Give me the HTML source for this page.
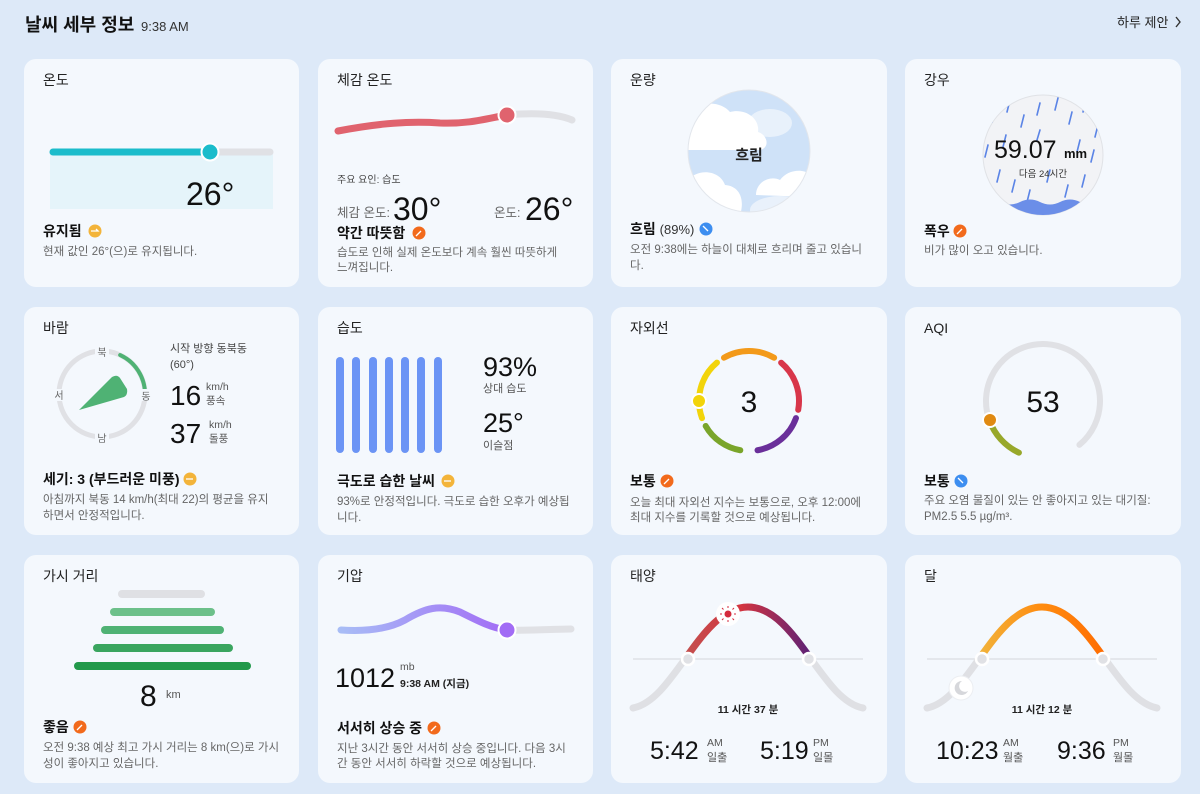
<!DOCTYPE html>
<html><head><meta charset="utf-8"><style>
html,body{margin:0;padding:0;background:#dde9f8;width:1200px;height:794px;overflow:hidden}
svg{display:block}
text{font-family:"Liberation Sans","Noto Sans CJK KR",sans-serif}
.t{font-size:14px;fill:#222}
.b{font-size:14px;font-weight:bold;fill:#111}
.d{font-size:11.5px;fill:#666}
.s{font-size:11px;fill:#555}
</style></head><body>
<svg width="1200" height="794" viewBox="0 0 1200 794" xmlns="http://www.w3.org/2000/svg">
<defs>
<linearGradient id="sunG" x1="680" x2="815" y1="0" y2="0" gradientUnits="userSpaceOnUse"><stop offset="0" stop-color="#c25250"/><stop offset="0.45" stop-color="#d4343f"/><stop offset="1" stop-color="#55207a"/></linearGradient>
<linearGradient id="moonG" x1="974" x2="1109" y1="0" y2="0" gradientUnits="userSpaceOnUse"><stop offset="0" stop-color="#f0b63e"/><stop offset="0.5" stop-color="#ff8c10"/><stop offset="1" stop-color="#ff6a00"/></linearGradient>
<linearGradient id="presG" x1="340" x2="507" y1="0" y2="0" gradientUnits="userSpaceOnUse"><stop offset="0" stop-color="#a8bdf6"/><stop offset="1" stop-color="#a26cf5"/></linearGradient>
<clipPath id="skyS"><rect x="600" y="560" width="300" height="99"/></clipPath>
<clipPath id="skyM"><rect x="900" y="560" width="300" height="99"/></clipPath>
<clipPath id="cloudC"><circle cx="749" cy="151" r="61"/></clipPath>
<clipPath id="rainC"><circle cx="1043" cy="155" r="60"/></clipPath>
</defs>
<rect width="1200" height="794" fill="#dde9f8"/>
<text x="25" y="31" font-size="18" font-weight="bold" fill="#111">날씨 세부 정보</text>
<text x="141" y="31" font-size="13" fill="#333">9:38 AM</text>
<text x="1117" y="27" font-size="13" fill="#222">하루 제안</text>
<path d="M1176,17 l4,5 l-4,5" stroke="#333" stroke-width="1.4" fill="none"/>

<g fill="#f4f8fd">
<rect x="24" y="59" width="275" height="228" rx="12"/><rect x="318" y="59" width="275" height="228" rx="12"/><rect x="611" y="59" width="276" height="228" rx="12"/><rect x="905" y="59" width="276" height="228" rx="12"/>
<rect x="24" y="307" width="275" height="228" rx="12"/><rect x="318" y="307" width="275" height="228" rx="12"/><rect x="611" y="307" width="276" height="228" rx="12"/><rect x="905" y="307" width="276" height="228" rx="12"/>
<rect x="24" y="555" width="275" height="228" rx="12"/><rect x="318" y="555" width="275" height="228" rx="12"/><rect x="611" y="555" width="276" height="228" rx="12"/><rect x="905" y="555" width="276" height="228" rx="12"/>
</g>

<!-- 1 온도 -->
<text x="43" y="85" class="t">온도</text>
<rect x="50" y="152" width="223" height="57" fill="#e5f4fa"/>
<line x1="53" y1="152" x2="270" y2="152" stroke="#e0e1e5" stroke-width="7" stroke-linecap="round"/>
<line x1="53" y1="152" x2="210" y2="152" stroke="#1bbccb" stroke-width="7" stroke-linecap="round"/>
<circle cx="210" cy="152" r="8.5" fill="#1bbccb" stroke="#fff" stroke-width="2"/>
<text x="186" y="205" font-size="32" fill="#111">26°</text>
<text x="43" y="236" class="b">유지됨</text>
<circle cx="95" cy="231" r="6.5" fill="#f3b43a"/><path d="M91,231 h7 l-2,-2" stroke="#fff" stroke-width="1.3" fill="none"/>
<text x="43" y="255" class="d">현재 값인 26°(으)로 유지됩니다.</text>

<!-- 2 체감 온도 -->
<text x="337" y="85" class="t">체감 온도</text>
<path d="M507,115 C540,112 560,115 572,120" stroke="#e0e1e5" stroke-width="7" fill="none" stroke-linecap="round"/>
<path d="M338,131 C380,123 410,121 440,123 C470,124 485,119 507,115" stroke="#e0636e" stroke-width="7" fill="none" stroke-linecap="round"/>
<circle cx="507" cy="115" r="8.5" fill="#e0636e" stroke="#fff" stroke-width="2"/>
<text x="337" y="183" font-size="10" fill="#444">주요 요인: 습도</text>
<text x="337" y="217" font-size="12.5" fill="#666">체감 온도:</text>
<text x="393" y="220" font-size="32" fill="#111">30°</text>
<text x="494" y="217" font-size="12.5" fill="#666">온도:</text>
<text x="525" y="220" font-size="32" fill="#111">26°</text>
<text x="337" y="238" class="b">약간 따뜻함</text>
<circle cx="419" cy="233" r="6.5" fill="#f26a1c"/><path d="M416,236 l5,-5" stroke="#fff" stroke-width="1.3"/>
<text x="337" y="256" class="d">습도로 인해 실제 온도보다 계속 훨씬 따뜻하게</text>
<text x="337" y="271" class="d">느껴집니다.</text>

<!-- 3 운량 -->
<text x="630" y="85" class="t">운량</text>
<g clip-path="url(#cloudC)">
<rect x="680" y="85" width="140" height="130" fill="#cfe2f8"/>
<ellipse cx="770" cy="123" rx="22" ry="14" fill="#e8f1fb"/>
<path d="M688,150 L688,118 C695,100 720,100 730,112 C745,108 760,118 758,132 C768,135 770,148 760,150 Z" fill="#fff"/>
<path d="M756,195 C756,182 770,175 780,180 C790,166 815,168 815,185 L815,197 Z" fill="#fff"/>
<ellipse cx="780" cy="210" rx="30" ry="14" fill="#e9f1fb"/>
<path d="M688,215 L688,180 C698,168 720,170 725,185 C740,186 745,200 740,215 Z" fill="#fff"/>
</g>
<circle cx="749" cy="151" r="61" fill="none" stroke="#e2e6ec" stroke-width="1"/>
<text x="749" y="160" font-size="15" font-weight="bold" fill="#222" text-anchor="middle">흐림</text>
<text x="630" y="234" class="b">흐림 <tspan font-weight="normal" font-size="13" fill="#333">(89%)</tspan></text>
<circle cx="706" cy="229" r="6.5" fill="#3d8ef0"/><path d="M703,226 l5,5" stroke="#fff" stroke-width="1.3"/>
<text x="630" y="253" class="d">오전 9:38에는 하늘이 대체로 흐리며 줄고 있습니</text>
<text x="630" y="269" class="d">다.</text>

<!-- 4 강우 -->
<text x="924" y="85" class="t">강우</text>
<circle cx="1043" cy="155" r="60" fill="#f2f3f6" stroke="#e0e2e6"/>
<g clip-path="url(#rainC)" stroke="#5b84e6" stroke-width="1.6" stroke-linecap="round">
<path d="M995,110 l-3,12 M1010,100 l-3,12 M1024,115 l-3,12 M1040,103 l-3,12 M1058,98 l-3,12 M1072,112 l-3,12 M1086,100 l-3,12 M1098,125 l-3,12 M988,145 l-3,12 M1006,135 l-3,12 M1080,140 l-3,12 M1094,150 l-3,12 M1000,170 l-3,12 M1015,180 l-3,12 M1030,190 l-3,12 M1050,170 l-3,12 M1068,185 l-3,12 M1085,175 l-3,12 M1100,180 l-3,12 M1040,130 l-3,10"/>
<path d="M980,202 Q990,197 1000,202 T1020,202 T1040,202 T1060,202 T1080,202 T1100,202 T1120,202 L1120,220 L980,220 Z" fill="#6b8ee8" stroke="none"/>
</g>
<text x="994" y="158" font-size="25" fill="#111">59.07</text>
<text x="1064" y="158" font-size="13" font-weight="bold" fill="#111">mm</text>
<text x="1043" y="177" font-size="9.5" fill="#333" text-anchor="middle">다음 24시간</text>
<text x="924" y="236" class="b">폭우</text>
<circle cx="960" cy="231" r="6.5" fill="#f26a1c"/><path d="M957,234 l5,-5" stroke="#fff" stroke-width="1.3"/>
<text x="924" y="254" class="d">비가 많이 오고 있습니다.</text>

<!-- 5 바람 -->
<text x="43" y="333" class="t">바람</text>
<circle cx="102" cy="394" r="43" fill="none" stroke="#e0e1e5" stroke-width="5"/>
<circle cx="102" cy="394" r="43" fill="none" stroke="#4fb274" stroke-width="4" stroke-dasharray="48.8 300" transform="rotate(-65 102 394)" stroke-linecap="round"/>
<g font-size="10" fill="#666" text-anchor="middle">
<rect x="95" y="346" width="14" height="12" fill="#f4f8fd"/><text x="102" y="356">북</text>
<rect x="95" y="432" width="14" height="12" fill="#f4f8fd"/><text x="102" y="442">남</text>
<rect x="52" y="389" width="14" height="12" fill="#f4f8fd"/><text x="59" y="399">서</text>
<rect x="139" y="389" width="14" height="12" fill="#f4f8fd"/><text x="146" y="400">동</text>
</g>
<path d="M79,410 L112,377 Q117,374 120,378 L127,389 Q128,395 124,397 Z" fill="#4fb274"/>
<text x="170" y="352" font-size="11" fill="#444">시작 방향 동북동</text>
<text x="170" y="368" font-size="11" fill="#444">(60°)</text>
<text x="170" y="405" font-size="28" fill="#111">16</text>
<text x="206" y="390" font-size="10.5" fill="#555">km/h</text><text x="206" y="404" font-size="10.5" fill="#555">풍속</text>
<text x="170" y="443" font-size="28" fill="#111">37</text>
<text x="209" y="428" font-size="10.5" fill="#555">km/h</text><text x="209" y="442" font-size="10.5" fill="#555">돌풍</text>
<text x="43" y="484" class="b">세기: 3 (부드러운 미풍)</text>
<circle cx="190" cy="479" r="6.5" fill="#f3b43a"/><path d="M186,479 h7" stroke="#fff" stroke-width="1.3"/>
<text x="43" y="503" class="d">아침까지 북동 14 km/h(최대 22)의 평균을 유지</text>
<text x="43" y="519" class="d">하면서 안정적입니다.</text>

<!-- 6 습도 -->
<text x="337" y="333" class="t">습도</text>
<g stroke="#6b94f5" stroke-width="8" stroke-linecap="round">
<line x1="340" y1="361" x2="340" y2="449"/><line x1="356" y1="361" x2="356" y2="449"/><line x1="373" y1="361" x2="373" y2="449"/><line x1="389" y1="361" x2="389" y2="449"/><line x1="405" y1="361" x2="405" y2="449"/><line x1="421" y1="361" x2="421" y2="449"/><line x1="438" y1="361" x2="438" y2="449"/>
</g>
<text x="483" y="376" font-size="27" fill="#111">93%</text>
<text x="483" y="392" font-size="11" fill="#555">상대 습도</text>
<text x="483" y="432" font-size="27" fill="#111">25°</text>
<text x="483" y="449" font-size="11" fill="#555">이슬점</text>
<text x="337" y="486" class="b">극도로 습한 날씨</text>
<circle cx="448" cy="481" r="6.5" fill="#f3b43a"/><path d="M444,481 h7" stroke="#fff" stroke-width="1.3"/>
<text x="337" y="505" class="d">93%로 안정적입니다. 극도로 습한 오후가 예상됩</text>
<text x="337" y="521" class="d">니다.</text>

<!-- 7 자외선 -->
<text x="630" y="333" class="t">자외선</text>
<g fill="none" stroke-width="6" stroke-linecap="round">
<circle cx="749" cy="401" r="50" stroke="#7aa52a" stroke-dasharray="43.6 300" transform="rotate(100 749 401)"/>
<circle cx="749" cy="401" r="50" stroke="#f2d40a" stroke-dasharray="61.1 300" transform="rotate(160 749 401)"/>
<circle cx="749" cy="401" r="50" stroke="#f39a1a" stroke-dasharray="52.4 300" transform="rotate(240 749 401)"/>
<circle cx="749" cy="401" r="50" stroke="#d8364a" stroke-dasharray="52.4 300" transform="rotate(-50 749 401)"/>
<circle cx="749" cy="401" r="50" stroke="#6a2f9a" stroke-dasharray="52.4 300" transform="rotate(20 749 401)"/>
</g>
<circle cx="699" cy="401" r="7" fill="#f2d40a" stroke="#fff" stroke-width="2"/>
<text x="749" y="412" font-size="30" fill="#111" text-anchor="middle">3</text>
<text x="630" y="486" class="b">보통</text>
<circle cx="667" cy="481" r="6.5" fill="#f26a1c"/><path d="M664,484 l5,-5" stroke="#fff" stroke-width="1.3"/>
<text x="630" y="506" class="d">오늘 최대 자외선 지수는 보통으로, 오후 12:00에</text>
<text x="630" y="521" class="d">최대 지수를 기록할 것으로 예상됩니다.</text>

<!-- 8 AQI -->
<text x="924" y="333" class="t">AQI</text>
<g fill="none" stroke-width="6" stroke-linecap="round">
<circle cx="1043" cy="401" r="57" stroke="#e0e1e5" stroke-dasharray="293.5 400" transform="rotate(115 1043 401)"/>
<circle cx="1043" cy="401" r="57" stroke="#98a82a" stroke-dasharray="44.8 400" transform="rotate(115 1043 401)"/>
</g>
<circle cx="990" cy="420" r="7" fill="#e08a12" stroke="#fff" stroke-width="2"/>
<text x="1043" y="412" font-size="30" fill="#111" text-anchor="middle">53</text>
<text x="924" y="486" class="b">보통</text>
<circle cx="961" cy="481" r="6.5" fill="#3d8ef0"/><path d="M958,478 l5,5" stroke="#fff" stroke-width="1.3"/>
<text x="924" y="504" class="d">주요 오염 물질이 있는 안 좋아지고 있는 대기질:</text>
<text x="924" y="520" class="d">PM2.5 5.5 µg/m³.</text>

<!-- 9 가시 거리 -->
<text x="43" y="581" class="t">가시 거리</text>
<g stroke-width="8" stroke-linecap="round">
<line x1="122" y1="594" x2="201" y2="594" stroke="#dfe0e4"/>
<line x1="114" y1="612" x2="211" y2="612" stroke="#6cc08a"/>
<line x1="105" y1="630" x2="220" y2="630" stroke="#4fb274"/>
<line x1="97" y1="648" x2="229" y2="648" stroke="#3aa55f"/>
<line x1="78" y1="666" x2="247" y2="666" stroke="#22994b"/>
</g>
<text x="140" y="706" font-size="30" fill="#111">8</text>
<text x="166" y="698" font-size="11" fill="#555">km</text>
<text x="43" y="732" class="b">좋음</text>
<circle cx="80" cy="727" r="6.5" fill="#f26a1c"/><path d="M77,730 l5,-5" stroke="#fff" stroke-width="1.3"/>
<text x="43" y="751" class="d">오전 9:38 예상 최고 가시 거리는 8 km(으)로 가시</text>
<text x="43" y="767" class="d">성이 좋아지고 있습니다.</text>

<!-- 10 기압 -->
<text x="337" y="581" class="t">기압</text>
<path d="M507,630 C530,631 555,629 571,629" stroke="#e0e1e5" stroke-width="7" fill="none" stroke-linecap="round"/>
<path d="M341,630 C370,632 390,628 405,620 C425,608 440,604 460,612 C480,622 492,628 507,630" stroke="url(#presG)" stroke-width="7" fill="none" stroke-linecap="round"/>
<circle cx="507" cy="630" r="8.5" fill="#a26cf5" stroke="#fff" stroke-width="2"/>
<text x="335" y="687" font-size="27" fill="#111">1012</text>
<text x="400" y="670" font-size="10.5" fill="#555">mb</text>
<text x="400" y="687" font-size="10.5" font-weight="bold" fill="#222">9:38 AM (지금)</text>
<text x="337" y="733" class="b">서서히 상승 중</text>
<circle cx="434" cy="728" r="6.5" fill="#f26a1c"/><path d="M431,731 l5,-5" stroke="#fff" stroke-width="1.3"/>
<text x="337" y="752" class="d">지난 3시간 동안 서서히 상승 중입니다. 다음 3시</text>
<text x="337" y="767" class="d">간 동안 서서히 하락할 것으로 예상됩니다.</text>

<!-- 11 태양 -->
<text x="630" y="581" class="t">태양</text>
<line x1="633" y1="659" x2="863" y2="659" stroke="#d4d6da" stroke-width="1"/>
<path d="M633,708 C675,700 700,607 748,607 C796,607 821,700 863,708" stroke="#dfe0e4" stroke-width="7" fill="none" stroke-linecap="round"/>
<path d="M633,708 C675,700 700,607 748,607 C796,607 821,700 863,708" stroke="url(#sunG)" stroke-width="7" fill="none" clip-path="url(#skyS)"/>
<circle cx="688" cy="659" r="6" fill="#e0e1e5" stroke="#fff" stroke-width="2.5"/>
<circle cx="809" cy="659" r="6" fill="#e0e1e5" stroke="#fff" stroke-width="2.5"/>
<circle cx="728" cy="614" r="12" fill="#fff"/>
<circle cx="728" cy="614" r="3.5" fill="#d42a3c"/>
<g stroke="#d42a3c" stroke-width="1"><path d="M728,606 v2 M728,620 v2 M720,614 h2 M734,614 h2 M722,608 l1.5,1.5 M732.5,618.5 l1.5,1.5 M734,608 l-1.5,1.5 M722,620 l1.5,-1.5"/></g>
<text x="748" y="713" font-size="10.5" font-weight="bold" fill="#222" text-anchor="middle">11 시간 37 분</text>
<text x="650" y="759" font-size="25" fill="#111">5:42</text>
<text x="707" y="746" font-size="10.5" fill="#555">AM</text><text x="707" y="761" font-size="11" fill="#555">일출</text>
<text x="760" y="759" font-size="25" fill="#111">5:19</text>
<text x="813" y="746" font-size="10.5" fill="#555">PM</text><text x="813" y="761" font-size="11" fill="#555">일몰</text>

<!-- 12 달 -->
<text x="924" y="581" class="t">달</text>
<line x1="927" y1="659" x2="1157" y2="659" stroke="#d4d6da" stroke-width="1"/>
<path d="M927,708 C969,700 994,607 1042,607 C1090,607 1115,700 1157,708" stroke="#dfe0e4" stroke-width="7" fill="none" stroke-linecap="round"/>
<path d="M927,708 C969,700 994,607 1042,607 C1090,607 1115,700 1157,708" stroke="url(#moonG)" stroke-width="7" fill="none" clip-path="url(#skyM)"/>
<circle cx="982" cy="659" r="6" fill="#e0e1e5" stroke="#fff" stroke-width="2.5"/>
<circle cx="1103" cy="659" r="6" fill="#e0e1e5" stroke="#fff" stroke-width="2.5"/>
<circle cx="961" cy="688" r="12" fill="#fff" stroke="#eceef2"/>
<path d="M962,681 A7,7 0 1,0 968,691 A5.5,5.5 0 0,1 962,681 Z" fill="#d6d7db"/>
<text x="1042" y="713" font-size="10.5" font-weight="bold" fill="#222" text-anchor="middle">11 시간 12 분</text>
<text x="936" y="759" font-size="25" fill="#111">10:23</text>
<text x="1003" y="746" font-size="10.5" fill="#555">AM</text><text x="1003" y="761" font-size="11" fill="#555">월출</text>
<text x="1057" y="759" font-size="25" fill="#111">9:36</text>
<text x="1113" y="746" font-size="10.5" fill="#555">PM</text><text x="1113" y="761" font-size="11" fill="#555">월몰</text>
</svg>
</body></html>
